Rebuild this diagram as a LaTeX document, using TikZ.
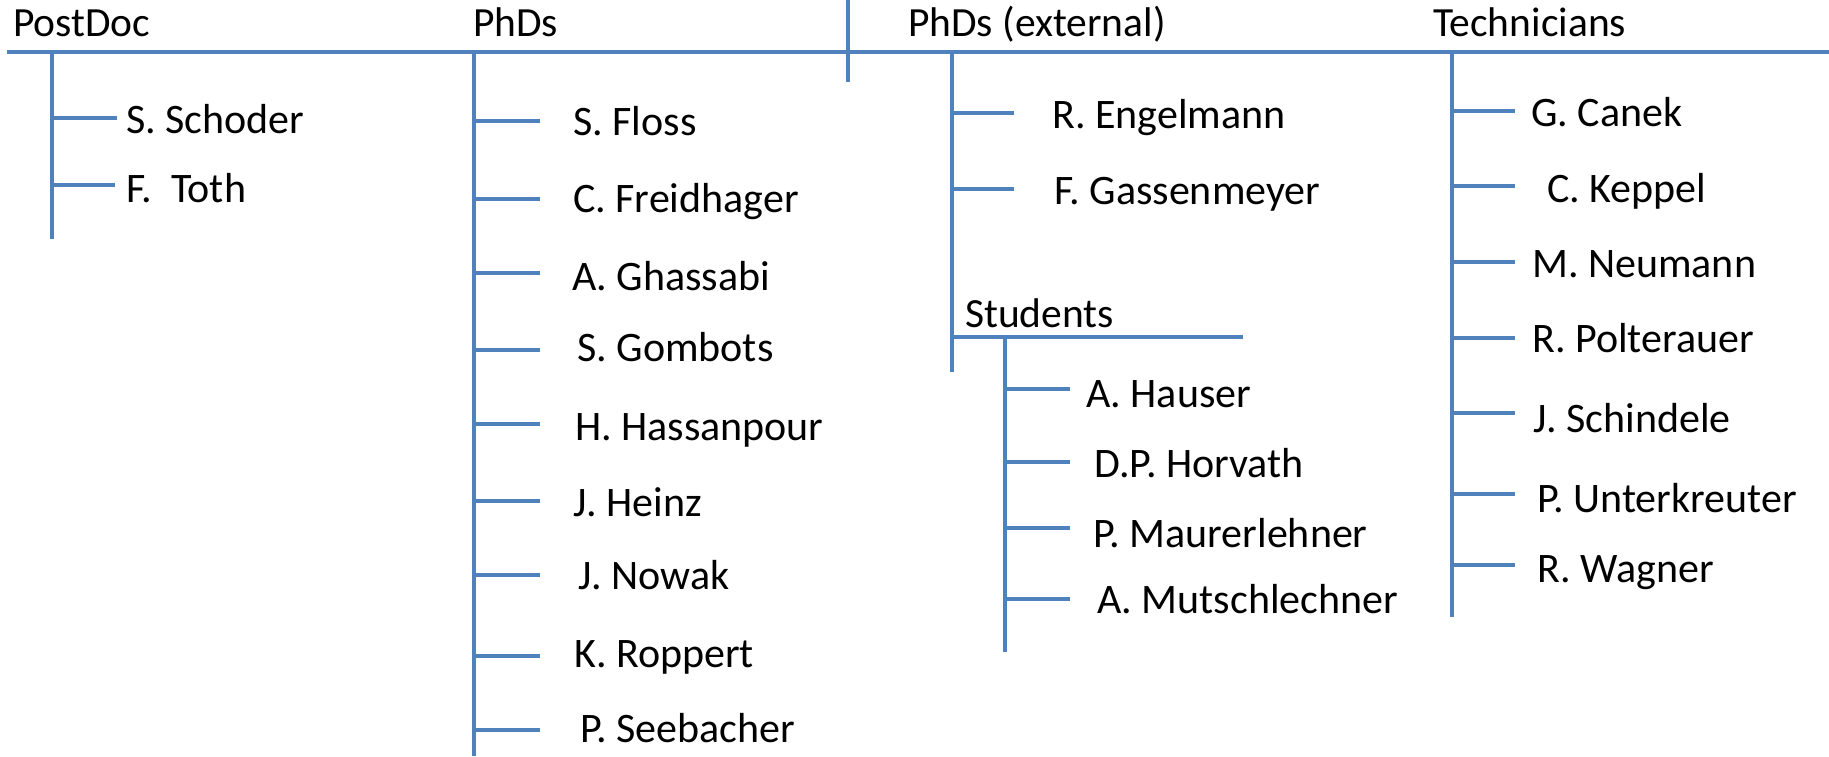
\documentclass[tikz,border=0pt]{standalone}
\usepackage{fontspec}
\setmainfont{Carlito}
\definecolor{lblue}{HTML}{4F81BD}
\begin{document}
\begin{tikzpicture}[x=1pt,y=-1pt,
  conn/.style={draw=lblue,line width=3.5pt},
  lbl/.style={anchor=base west,inner sep=0pt,font=\fontsize{42}{46}\selectfont},
  head/.style={anchor=base west,inner sep=0pt,font=\fontsize{41.5}{46}\selectfont}]
\useasboundingbox (0,0) rectangle (1829,756);
% main bar
\coordinate (barL) at (7,52);
\coordinate (barR) at (1829,52);
\draw[conn] (barL) -- (barR);
\coordinate (divT) at (848,0);
\coordinate (divB) at (848,82);
\draw[conn] (divT) -- (divB);
% headings
\node[head] (hPD) at (13,36) {PostDoc};
\node[head] (hPhD) at (473,36) {PhDs};
\node[head] (hExt) at (908,36) {PhDs (external)};
\node[head] (hTec) at (1433,36) {Technicians};
\node[head] (hStu) at (965,327) {Students};
% PostDoc
\coordinate (sPDt) at (52,52); \coordinate (sPDb) at (52,239);
\draw[conn] (sPDt) -- (sPDb);
\node[lbl] (pd1) at (126,133) {S. Schoder};
\node[lbl] (pd2) at (126,202) {F.\ \ Toth};
\coordinate (bpd1) at (52,118); \coordinate (epd1) at (117,118);
\coordinate (bpd2) at (52,185); \coordinate (epd2) at (115,185);
\draw[conn] (bpd1) -- (epd1);
\draw[conn] (bpd2) -- (epd2);
% PhDs
\coordinate (sPht) at (474,52); \coordinate (sPhb) at (474,756);
\draw[conn] (sPht) -- (sPhb);
\foreach \nm/\ly in {ph1/121, ph2/199, ph3/273, ph4/350,
  ph5/424, ph6/501, ph7/575, ph8/656, ph9/730}{
  \coordinate (b\nm) at (474,\ly); \coordinate (e\nm) at (540,\ly);
  \draw[conn] (b\nm) -- (e\nm);
}
\node[lbl] (ph1) at (573,135) {S. Floss};
\node[lbl] (ph2) at (573,212) {C. Freidhager};
\node[lbl] (ph3) at (572,290) {A. Ghassabi};
\node[lbl] (ph4) at (577,361) {S. Gombots};
\node[lbl] (ph5) at (575,440) {H. Hassanpour};
\node[lbl] (ph6) at (573,516) {J. Heinz};
\node[lbl] (ph7) at (578,589) {J. Nowak};
\node[lbl] (ph8) at (574,667) {K. Roppert};
\node[lbl] (ph9) at (580,742) {P. Seebacher};
% PhDs external
\coordinate (sExt) at (952,52); \coordinate (sExb) at (952,372);
\draw[conn] (sExt) -- (sExb);
\coordinate (bex1) at (952,113); \coordinate (eex1) at (1014,113);
\coordinate (bex2) at (952,189); \coordinate (eex2) at (1014,189);
\draw[conn] (bex1) -- (eex1);
\draw[conn] (bex2) -- (eex2);
\node[lbl] (ex1) at (1052,128) {R. Engelmann};
\node[lbl] (ex2) at (1054,204) {F. Gassenmeyer};
% Students
\coordinate (stL) at (952,337); \coordinate (stR) at (1243,337);
\draw[conn] (stL) -- (stR);
\coordinate (sStt) at (1005,337); \coordinate (sStb) at (1005,652);
\draw[conn] (sStt) -- (sStb);
\foreach \nm/\ly in {st1/389, st2/462, st3/528, st4/599}{
  \coordinate (b\nm) at (1005,\ly); \coordinate (e\nm) at (1070,\ly);
  \draw[conn] (b\nm) -- (e\nm);
}
\node[lbl] (st1) at (1086,407) {A. Hauser};
\node[lbl] (st2) at (1094,477) {D.P. Horvath};
\node[lbl] (st3) at (1093,547) {P. Maurerlehner};
\node[lbl] (st4) at (1097,613) {A. Mutschlechner};
% Technicians
\coordinate (sTct) at (1452,52); \coordinate (sTcb) at (1452,617);
\draw[conn] (sTct) -- (sTcb);
\foreach \nm/\ly in {tc1/111, tc2/186, tc3/262, tc4/338, tc5/413, tc6/494, tc7/565}{
  \coordinate (b\nm) at (1452,\ly); \coordinate (e\nm) at (1515,\ly);
  \draw[conn] (b\nm) -- (e\nm);
}
\node[lbl] (tc1) at (1531,126) {G. Canek};
\node[lbl] (tc2) at (1547,202) {C. Keppel};
\node[lbl] (tc3) at (1532,277) {M. Neumann};
\node[lbl] (tc4) at (1532,352) {R. Polterauer};
\node[lbl] (tc5) at (1533,432) {J. Schindele};
\node[lbl] (tc6) at (1537,512) {P. Unterkreuter};
\node[lbl] (tc7) at (1537,582) {R. Wagner};
\end{tikzpicture}
\end{document}
